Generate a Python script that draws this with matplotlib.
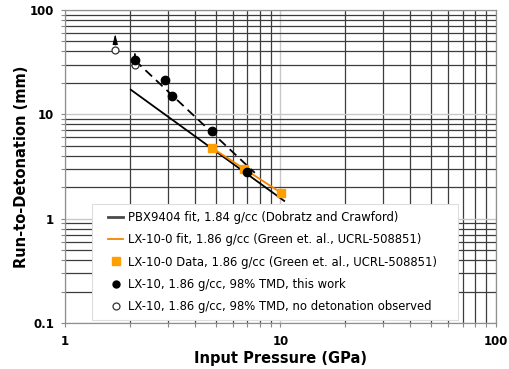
"""Run-to-detonation (Pop plot) for LX-10 vs PBX9404."""

import matplotlib

matplotlib.use("Agg")
import matplotlib.pyplot as plt
from matplotlib.legend_handler import HandlerLine2D
from matplotlib.lines import Line2D
from matplotlib.ticker import LogLocator, NullFormatter

# PBX9404 fit (Dobratz and Crawford)
pbx_x = [2.02, 10.4]
pbx_y = [17.2, 1.48]

# LX-10-0 fit and data (Green et al.)
lx100_fit_x = [4.83, 10.1]
lx100_fit_y = [4.73, 1.76]
lx100_data_x = [4.83, 6.79, 10.1]
lx100_data_y = [4.73, 2.99, 1.76]

# LX-10, this work
lx10_x = [2.11, 2.91, 3.13, 4.83, 7.01]
lx10_y = [32.9, 21.5, 15.0, 6.89, 2.78]
lx10_fit_x = [2.11, 7.6]
lx10_fit_y = [32.9, 2.75]

# LX-10, no detonation observed (lower bounds)
nodet_x = [1.71, 2.11]
nodet_y = [41.7, 29.9]
nodet_arrow_top = [59.0, 40.0]

x_ticks = [1, 10, 100]
x_tick_labels = ["1", "10", "100"]
y_ticks = [0.1, 1, 10, 100]
y_tick_labels = ["0.1", "1", "10", "100"]

labels = [
    "PBX9404 fit, 1.84 g/cc (Dobratz and Crawford)",
    "LX-10-0 fit, 1.86 g/cc (Green et. al., UCRL-508851)",
    "LX-10-0 Data, 1.86 g/cc (Green et. al., UCRL-508851)",
    "LX-10, 1.86 g/cc, 98% TMD, this work",
    "LX-10, 1.86 g/cc, 98% TMD, no detonation observed",
]

ORANGE = "#FFA000"
ORANGE_LINE = "#F58400"


class _ShortHandle(HandlerLine2D):
    """Short legend line, set in from the left edge of the handle box."""

    def create_artists(self, legend, orig_handle, xdescent, ydescent,
                       width, height, fontsize, trans):
        left = 0.82 * fontsize
        short = 1.3 * fontsize
        return super().create_artists(legend, orig_handle, xdescent - left,
                                      ydescent, short, height, fontsize, trans)


fig = plt.figure(figsize=(5.1, 3.69), dpi=100)
ax = fig.add_axes([0.1275, 0.1247, 0.845, 0.8483])
ax.set_xscale("log")
ax.set_yscale("log")
ax.set_xlim(1, 100)
ax.set_ylim(0.1, 100)

ax.grid(True, which="major", color="#c8c8c8", lw=1.0, zorder=0)
ax.grid(True, which="minor", color="#3c3c3c", lw=0.9, zorder=0)
ax.set_axisbelow(True)

ax.plot(pbx_x, pbx_y, color="black", lw=1.3, zorder=3)
ax.plot(lx100_fit_x, lx100_fit_y, color=ORANGE_LINE, lw=1.3, zorder=3)
ax.plot(lx100_data_x, lx100_data_y, "s", color=ORANGE, ms=6, ls="none", zorder=4)
ax.plot(lx10_fit_x, lx10_fit_y, color="black", lw=1.3, dashes=(5, 3), zorder=3)
ax.plot(lx10_x, lx10_y, "o", color="black", ms=6, ls="none", zorder=5)
ax.plot(nodet_x, nodet_y, "o", mfc="white", mec="#333333", mew=0.9,
        ms=5, ls="none", zorder=4)
for xv, y0, y1 in zip(nodet_x, nodet_y, nodet_arrow_top):
    ax.annotate("", xy=(xv, y1), xytext=(xv, y0 * 1.04),
                arrowprops=dict(arrowstyle="-|>,head_length=0.6,head_width=0.15",
                                color="black", lw=0.8, shrinkA=2, shrinkB=0),
                zorder=6)

ax.set_xticks(x_ticks)
ax.set_xticklabels(x_tick_labels)
ax.set_yticks(y_ticks)
ax.set_yticklabels(y_tick_labels)
ax.xaxis.set_minor_locator(LogLocator(base=10, subs=range(2, 10)))
ax.yaxis.set_minor_locator(LogLocator(base=10, subs=range(2, 10)))
ax.xaxis.set_minor_formatter(NullFormatter())
ax.yaxis.set_minor_formatter(NullFormatter())
ax.tick_params(which="both", direction="out", length=3, color="#888888", width=0.8)
ax.tick_params(axis="x", which="major", pad=6)
ax.tick_params(axis="y", which="major", pad=5)
for lab in ax.get_xticklabels() + ax.get_yticklabels():
    lab.set_fontweight("bold")
    lab.set_fontsize(8.5)

for sp in ax.spines.values():
    sp.set_color("#909090")
    sp.set_linewidth(0.9)

ax.set_xlabel("Input Pressure (GPa)", fontsize=10.5, fontweight="bold", labelpad=2)
ax.set_ylabel("Run-to-Detonation (mm)", fontsize=10.5, fontweight="bold", labelpad=0.5)

# legend proxies
handles = [
    Line2D([], [], color="#4a4a4a", lw=2.0),
    Line2D([], [], color=ORANGE_LINE, lw=1.3),
    Line2D([], [], marker="s", color=ORANGE, ms=5.5, ls="none"),
    Line2D([], [], marker="o", color="black", ms=5, ls="none"),
    Line2D([], [], marker="o", mfc="white", mec="#333333", mew=0.9, ms=5, ls="none"),
]
leg = ax.legend(handles, labels,
                loc="lower left", bbox_to_anchor=(0.0615, 0.009, 0.85, 0.3),
                mode="expand",
                fontsize=8.4, frameon=True, fancybox=False, framealpha=1,
                edgecolor="#dddddd", handlelength=2.12, handletextpad=0.43,
                labelspacing=0.8, borderpad=0.6, borderaxespad=0,
                handler_map={Line2D: _ShortHandle()})
leg.get_frame().set_linewidth(0.8)
leg.set_zorder(10)

fig.savefig("out.png", dpi=100)
